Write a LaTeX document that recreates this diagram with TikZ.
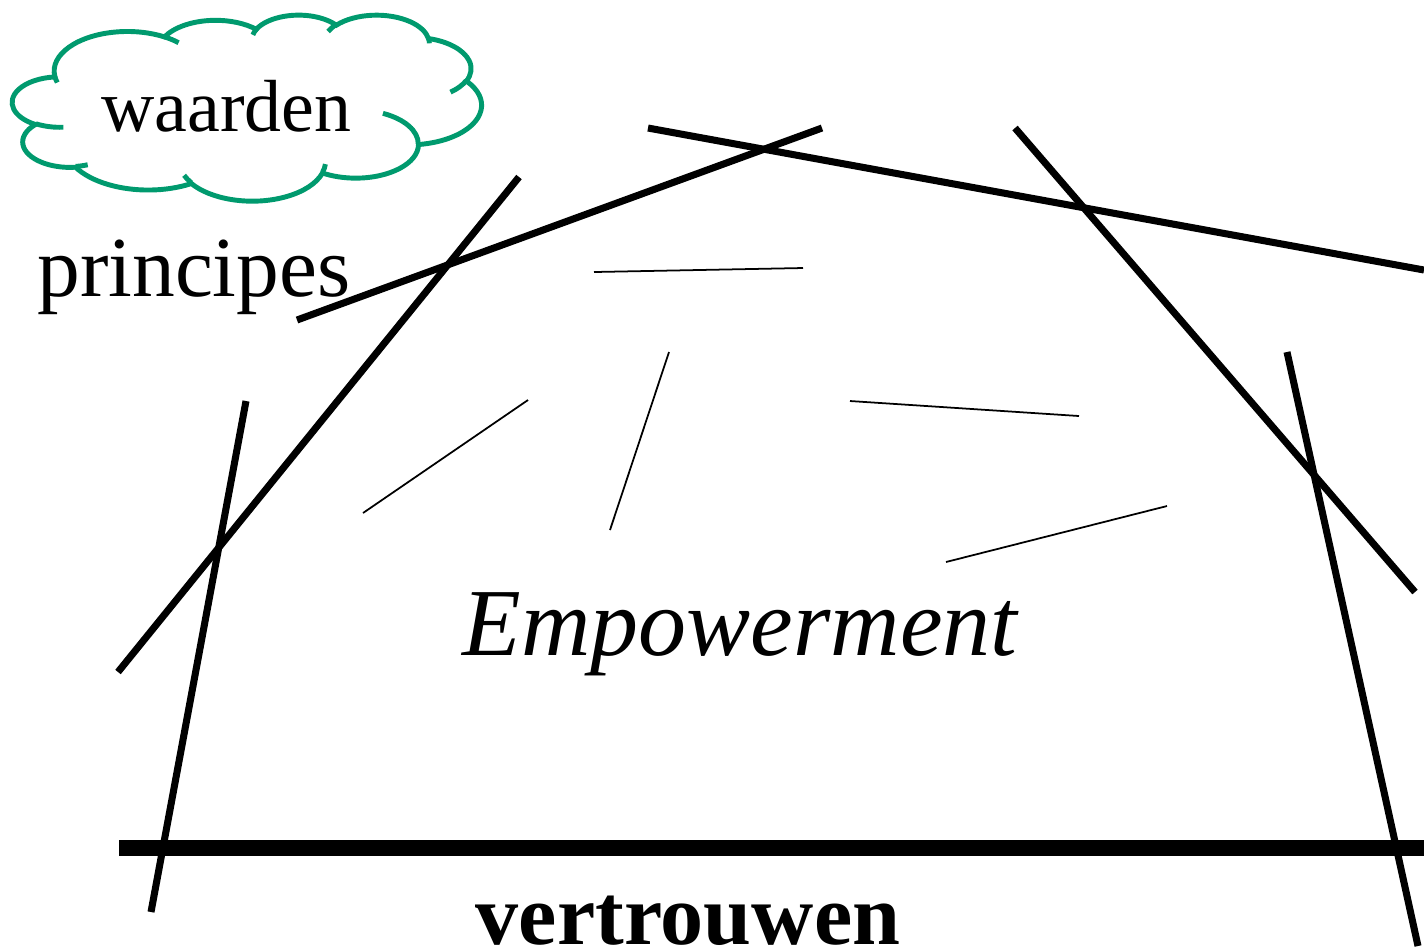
\documentclass[tikz,border=0pt]{standalone}
\usepackage{fontspec}
\setmainfont{Liberation Serif}
\usetikzlibrary{positioning}
\definecolor{cloudgreen}{HTML}{009A6E}

\begin{document}
\begin{tikzpicture}[
  x=0.01cm, y=-0.01cm,
  beam/.style={line width=2pt, black},
  floorbeam/.style={line width=4.6pt, black},
  strand/.style={line width=0.5pt, black},
  cloudline/.style={draw=cloudgreen, line width=1.4pt},
  lbl/.style={inner sep=0pt, anchor=base},
]
\useasboundingbox (0,0) rectangle (1424,950);

% ================= cloud (values) ==================================
\begin{scope}[shift={(12.5,14.5)}, x=0.010856cm, y=-0.004306cm]
  \draw[cloudline, fill=white] (39,143.7)
    \foreach \rx/\ry/\st/\sw
      [evaluate=\st as \ps using {atan2(\rx*sin(\st),\ry*cos(\st))},
       evaluate=\sw as \dd using {mod(atan2(\rx*sin(\st+\sw),\ry*cos(\st+\sw))-\ps+720,360)}]
      in {67.53/91.90/-190.4875/123.7805, 53.33/72.67/-144.1024/89.9452,
          43.65/59.45/-145.8079/99.7230,  48.57/65.95/-130.9861/117.2417,
          53.33/72.73/-78.7089/109.0269,  67.75/92.20/-46.2673/130.2690,
          57.85/78.67/0.6250/114.0333,    67.52/92.15/22.4516/115.1726,
          77.20/105.43/66.2426/75.7110,   43.60/59.18/-274.9421/146.7356,
          43.45/59.45/-246.8285/152.5189}
    { arc[start angle=\ps, delta angle=\dd, x radius=\rx, y radius=\ry] } -- cycle;
  % inner folds
  \draw[cloudline]
    \foreach \hx/\hy/\rx/\ry/\st/\sw
      [evaluate=\st as \ps using {atan2(\rx*sin(\st),\ry*cos(\st))},
       evaluate=\sw as \dd using {mod(atan2(\rx*sin(\st+\sw),\ry*cos(\st+\sw))-\ps+720,360)}]
      in {46.93/261.77/43.45/59.45/86.7420/26.4295,
          69.28/348.99/43.60/59.18/73.6105/11.4475,
          164.78/390.90/67.52/92.15/137.6242/14.0811,
          288.27/347.51/67.52/92.15/6.4533/15.9984,
          341.29/229.54/57.85/78.67/-70.2924/70.9174,
          417.98/153.54/53.33/72.73/30.3180/27.7515,
          383.24/54.26/48.57/65.95/-13.7443/14.8589,
          290.78/39.52/48.57/65.95/-149.1815/18.1954,
          221.41/47.20/43.65/59.45/-163.4943/17.6864,
          140.00/51.92/67.53/91.90/-66.7070/12.3194,
          41.27/157.89/67.53/91.90/157.6544/11.8582}
    { (\hx,\hy) arc[start angle=\ps, delta angle=\dd, x radius=\rx, y radius=\ry] };
\end{scope}
\node[lbl, font=\fontsize{21}{25}\selectfont] (waarden) at (226.5,131) {waarden};

% ================= labels ==========================================
\node[lbl, font=\fontsize{24.3}{29}\selectfont] (principes) at (194,296) {principes};
\node[lbl, font=\fontsize{27.3}{32}\selectfont\itshape] (empower) at (740,655) {Empowerment};
\node[lbl, font=\fontsize{24.5}{29}\selectfont\bfseries] (vertrouwen) at (688,944) {vertrouwen};

% ================= frame of beams ==================================
\draw[beam] (297,320) -- (822,128);
\draw[beam] (118,672) -- (519,177);
\draw[beam] (648,128) -- (1424,270);
\draw[beam] (1015,128) -- (1415,592);
\draw[beam] (246,401) -- (151,912);
\draw[beam] (1287,352) -- (1418,946);
\draw[floorbeam] (119,848) -- (1424,848);

% ================= loose strands inside ============================
\draw[strand] (594,272) -- (803,268);
\draw[strand] (363,513) -- (528,400);
\draw[strand] (610,530) -- (669,352);
\draw[strand] (850,401) -- (1079,416);
\draw[strand] (946,562) -- (1167,506);

\end{tikzpicture}
\end{document}
